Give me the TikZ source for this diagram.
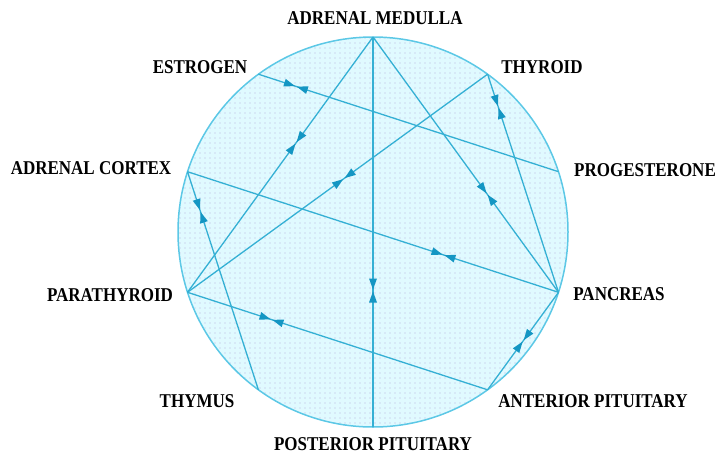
\documentclass[tikz,border=0pt]{standalone}
\usepackage{fontspec}
\usepackage{graphicx}
\setmainfont{Liberation Serif}
\usetikzlibrary{decorations.markings,patterns.meta}
\definecolor{circfill}{RGB}{224,250,255}
\definecolor{dotc}{RGB}{185,178,222}
\definecolor{circline}{RGB}{92,200,230}
\definecolor{chordc}{RGB}{52,176,212}
\definecolor{arrowc}{RGB}{20,150,195}
\tikzdeclarepattern{name=dotgrid, type=uncolored,
  bottom left={(-1pt,-1pt)}, top right={(4pt,4pt)}, tile size={(5pt,5pt)},
  code={\fill (0pt,0pt) circle [radius=0.65pt];}}
\tikzset{
  lbl/.style={font=\bfseries\fontsize{17}{17}\selectfont, inner sep=0pt},
  chord/.style={draw=chordc, line width=1.3pt},
  bowtie/.style={postaction={decorate, decoration={markings,
      mark=at position #1 with {
        \fill[arrowc] (-12pt,-4pt) -- (-1pt,0pt) -- (-12pt,4pt) -- cycle;
        \fill[arrowc] (12pt,-4pt) -- (1pt,0pt) -- (12pt,4pt) -- cycle;
      }}}}
}
\newcommand{\stretchlbl}[1]{\scalebox{1}[1.15]{#1}}
\begin{document}
\begin{tikzpicture}[x=1pt, y=-1pt]
\useasboundingbox (0,0) rectangle (720,458);
\coordinate (C) at (373,232);
\fill[circfill] (C) circle[radius=195];
\fill[pattern=dotgrid, pattern color=dotc] (C) circle[radius=195];
\draw[circline, line width=1.5pt] (C) circle[radius=195];
% points on the circle
\coordinate (am) at (373,37);
\coordinate (th) at (487.6,74.2);
\coordinate (pg) at (558.5,171.7);
\coordinate (pc) at (558.5,292.3);
\coordinate (ap) at (487.6,389.8);
\coordinate (pp) at (373,427);
\coordinate (ty) at (258.4,389.8);
\coordinate (pt) at (187.5,292.3);
\coordinate (ac) at (187.5,171.7);
\coordinate (es) at (258.4,74.2);
% chords
\path[chord, bowtie=0.65] (am) -- (pp);
\path[chord, bowtie=0.415] (am) -- (pt);
\path[chord, bowtie=0.615] (am) -- (pc);
\path[chord, bowtie=0.125] (es) -- (pg);
\path[chord, bowtie=0.479] (th) -- (pt);
\path[chord, bowtie=0.15] (th) -- (pc);
\path[chord, bowtie=0.69] (ac) -- (pc);
\path[chord, bowtie=0.18] (ac) -- (ty);
\path[chord, bowtie=0.28] (pt) -- (ap);
\path[chord, bowtie=0.5] (pc) -- (ap);
% labels
\node[lbl] (lam) at (375,18) {\stretchlbl{ADRENAL MEDULLA}};
\node[lbl] (les) at (200,67) {\stretchlbl{ESTROGEN}};
\node[lbl] (lth) at (542,67) {\stretchlbl{THYROID}};
\node[lbl] (lac) at (91,168) {\stretchlbl{ADRENAL CORTEX}};
\node[lbl] (lpg) at (645,170) {\stretchlbl{PROGESTERONE}};
\node[lbl] (lpt) at (110,295) {\stretchlbl{PARATHYROID}};
\node[lbl] (lpc) at (619,294) {\stretchlbl{PANCREAS}};
\node[lbl] (lty) at (197,401) {\stretchlbl{THYMUS}};
\node[lbl] (lap) at (593,401) {\stretchlbl{ANTERIOR PITUITARY}};
\node[lbl] (lpp) at (373,444) {\stretchlbl{POSTERIOR PITUITARY}};
\end{tikzpicture}
\end{document}
